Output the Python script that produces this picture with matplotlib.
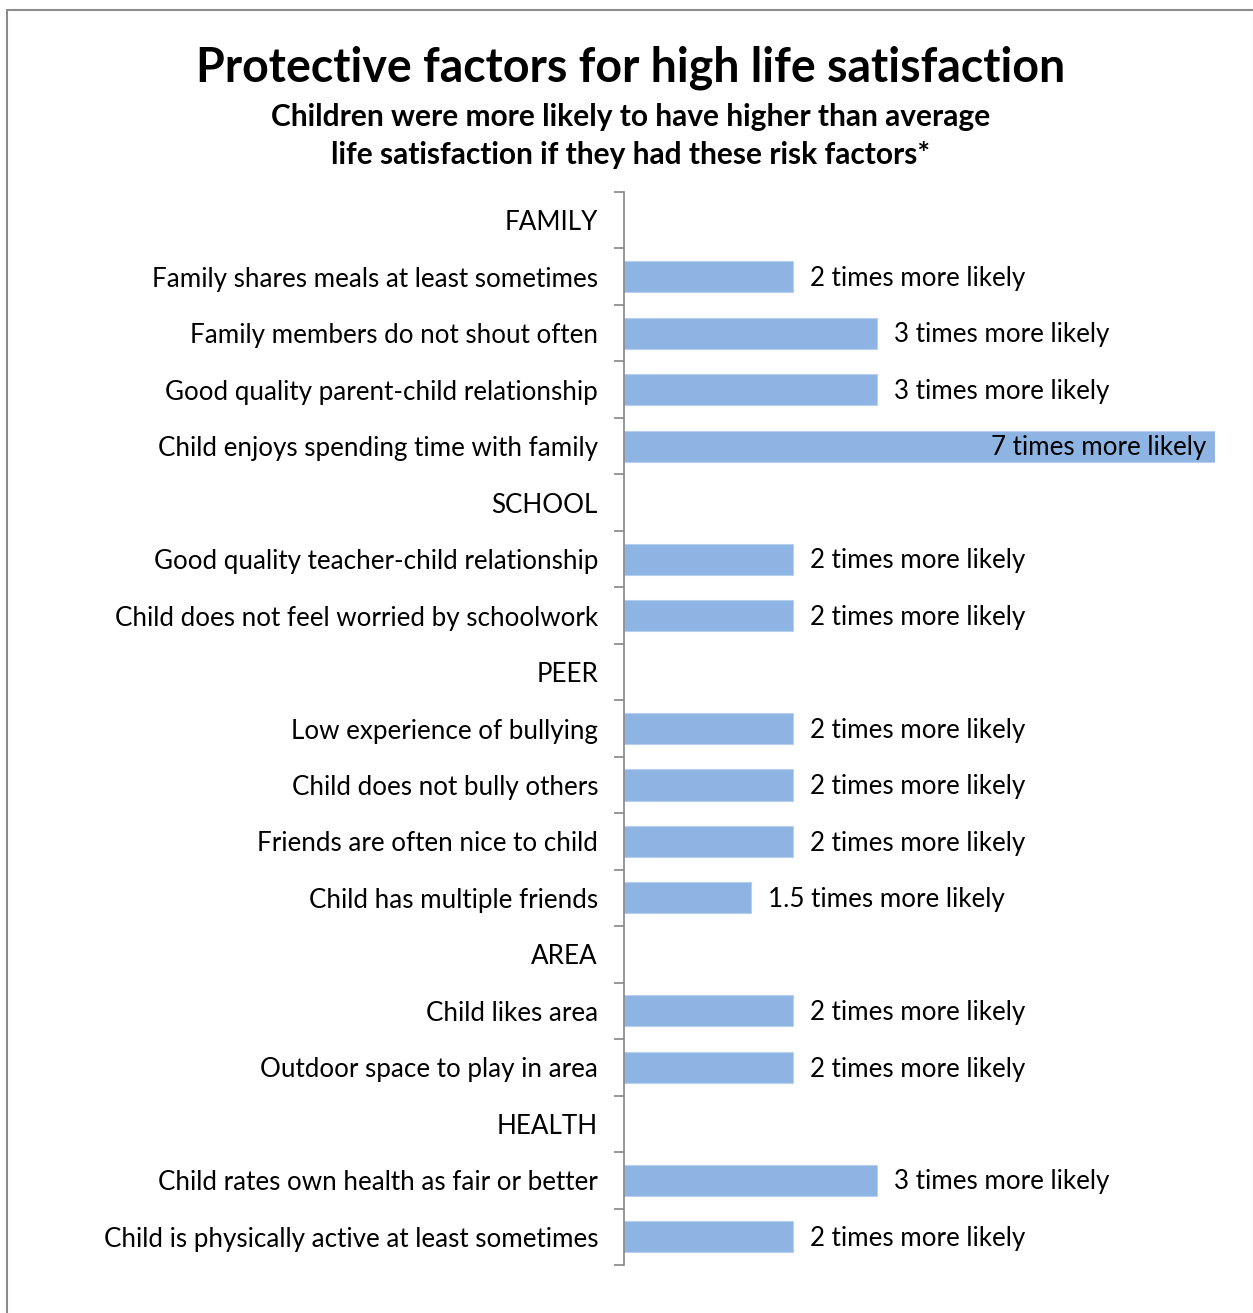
import matplotlib.pyplot as plt
from matplotlib.patches import Rectangle

# Rows from top to bottom; section headings have no value
categories = [
    "FAMILY",
    "Family shares meals at least sometimes",
    "Family members do not shout often",
    "Good quality parent-child relationship",
    "Child enjoys spending time with family",
    "SCHOOL",
    "Good quality teacher-child relationship",
    "Child does not feel worried by schoolwork",
    "PEER",
    "Low experience of bullying",
    "Child does not bully others",
    "Friends are often nice to child",
    "Child has multiple friends",
    "AREA",
    "Child likes area",
    "Outdoor space to play in area",
    "HEALTH",
    "Child rates own health as fair or better",
    "Child is physically active at least sometimes",
]
values = [None, 2, 3, 3, 7, None, 2, 2, None, 2, 2, 2, 1.5, None, 2, 2, None, 3, 2]
value_labels = [None if v is None else f"{v:g} times more likely" for v in values]

plt.rcParams["font.family"] = ["Lato", "DejaVu Sans"]

W, H = 1253, 1313
fig = plt.figure(figsize=(W / 100, H / 100), dpi=100)

# outer frame
fig.add_artist(Rectangle((7 / W, -0.01), (W - 6) / W, 1 - 10 / H + 0.01,
                         transform=fig.transFigure, fill=False,
                         edgecolor="#8c8c8c", linewidth=1.5))

ax = fig.add_axes([624 / W, 1 - 1265 / H, (1215 - 624) / W, (1265 - 192) / H])

n = len(categories)
ypos = list(range(n))
xmax = 7
fs = 18.7
for y, v, lab in zip(ypos, values, value_labels):
    if v is None:
        continue
    ax.barh(y, v, height=0.55, color="#8EB4E3", edgecolor="#b7cfee", linewidth=0.8)
    if v >= xmax:
        ax.text(v - 0.1, y + 0.03, lab, ha="right", va="center", fontsize=fs, color="black")
    else:
        ax.text(v + 0.2, y + 0.03, lab, ha="left", va="center", fontsize=fs, color="black")

ax.set_xlim(0, xmax)
ax.set_ylim(n - 0.5, -0.5)
ax.set_yticks([i + 0.5 for i in range(-1, n)], minor=False)
ax.set_yticklabels([])
ax.set_yticks(ypos, minor=True)
ax.set_yticklabels(categories, minor=True, fontsize=fs)
ax.tick_params(axis="y", which="major", length=7, width=1.2, color="#868686", direction="out")
ax.tick_params(axis="y", which="minor", length=0, pad=18.7)
ax.set_xticks([])
for side in ("top", "right", "bottom"):
    ax.spines[side].set_visible(False)
ax.spines["left"].set_color("#868686")
ax.spines["left"].set_linewidth(1.2)

fig.text(631 / W, 1 - 68 / H, "Protective factors for high life satisfaction",
         ha="center", va="center", fontsize=33.5, fontweight="bold")
fig.text(631 / W, 1 - 117 / H, "Children were more likely to have higher than average",
         ha="center", va="center", fontsize=21.5, fontweight="bold")
fig.text(631 / W, 1 - 155 / H, "life satisfaction if they had these risk factors*",
         ha="center", va="center", fontsize=21.5, fontweight="bold")

fig.savefig("out.png", dpi=100, facecolor="white")
